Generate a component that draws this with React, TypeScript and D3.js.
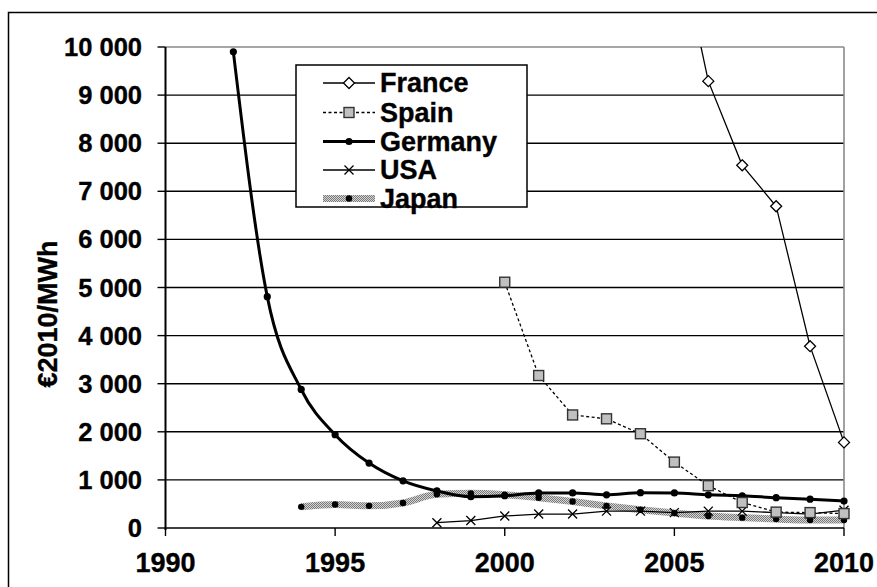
import React from "react";
import * as d3 from "d3";

const franceYears = [2005, 2006, 2007, 2008, 2009, 2010];
const franceValues = [12600, 9290, 7540, 6690, 3780, 1780];

const spainYears = [2000, 2001, 2002, 2003, 2004, 2005, 2006, 2007, 2008, 2009, 2010];
const spainValues = [5110, 3170, 2350, 2270, 1960, 1370, 880, 530, 330, 320, 300];

const germanyYears = [1992, 1993, 1994, 1995, 1996, 1997, 1998, 1999, 2000, 2001, 2002, 2003, 2004, 2005, 2006, 2007, 2008, 2009, 2010];
const germanyValues = [9900, 4810, 2880, 1940, 1350, 980, 770, 650, 670, 730, 730, 690, 735, 730, 690, 670, 630, 600, 560];

const usaYears = [1998, 1999, 2000, 2001, 2002, 2003, 2004, 2005, 2006, 2007, 2008, 2009, 2010];
const usaValues = [110, 155, 250, 290, 290, 350, 350, 320, 350, 350, 320, 290, 370];

const japanYears = [1994, 1995, 1996, 1997, 1998, 1999, 2000, 2001, 2002, 2003, 2004, 2005, 2006, 2007, 2008, 2009, 2010];
const japanValues = [440, 490, 460, 520, 700, 720, 690, 630, 550, 460, 380, 310, 250, 215, 185, 165, 165];

const xTickValues = [1990, 1995, 2000, 2005, 2010];
const yTickValues = [0, 1000, 2000, 3000, 4000, 5000, 6000, 7000, 8000, 9000, 10000];
const legendLabels = ["France", "Spain", "Germany", "USA", "Japan"];
const yAxisTitle = "€2010/MWh";

const FONT = "'Liberation Sans', Arial, Helvetica, sans-serif";

export default function App() {
  const left = 165.5;
  const right = 844;
  const top = 47;
  const bottom = 528;

  const x = d3.scaleLinear().domain([1990, 2010]).range([left, right]);
  const y = d3.scaleLinear().domain([0, 10000]).range([bottom, top]);

  const pts = (ys: number[], vs: number[]) => ys.map((yr, i) => [yr, vs[i]] as [number, number]);

  const lineLinear = d3.line<[number, number]>().x((d) => x(d[0])).y((d) => y(d[1]));
  const lineSmooth = d3
    .line<[number, number]>()
    .x((d) => x(d[0]))
    .y((d) => y(d[1]))
    .curve(d3.curveMonotoneX);

  const france = pts(franceYears, franceValues);
  const spain = pts(spainYears, spainValues);
  const germany = pts(germanyYears, germanyValues);
  const usa = pts(usaYears, usaValues);
  const japan = pts(japanYears, japanValues);

  const fmt = (v: number) => d3.format(",")(v).replace(/,/g, " ");

  const inPlot = (d: [number, number]) => d[1] <= 10000;

  const diamond = (cx: number, cy: number, key: string | number) => (
    <path
      key={key}
      d={`M${cx},${cy - 5.5}L${cx + 5.5},${cy}L${cx},${cy + 5.5}L${cx - 5.5},${cy}Z`}
      fill="#fff"
      stroke="#000"
      strokeWidth={1.3}
    />
  );
  const square = (cx: number, cy: number, key: string | number) => (
    <rect key={key} x={cx - 5} y={cy - 5} width={10} height={10} fill="#c0c0c0" stroke="#333" strokeWidth={1.4} />
  );
  const dot = (cx: number, cy: number, key: string | number, r = 3.6) => (
    <circle key={key} cx={cx} cy={cy} r={r} fill="#000" />
  );
  const cross = (cx: number, cy: number, key: string | number) => (
    <path
      key={key}
      d={`M${cx - 4.5},${cy - 4.5}L${cx + 4.5},${cy + 4.5}M${cx - 4.5},${cy + 4.5}L${cx + 4.5},${cy - 4.5}`}
      stroke="#000"
      strokeWidth={1.3}
      fill="none"
    />
  );

  const legX0 = 323;
  const legX1 = 375;
  const legMid = 349;
  const legTextX = 380;
  const legY = [83, 112.5, 141.5, 170, 198.5];

  const textStroke = { stroke: "#000", strokeWidth: 0.35 };

  return (
    <svg
      width={877}
      height={587}
      style={{ position: "absolute", left: 0, top: 0, background: "#fff" }}
      fontFamily={FONT}
    >
      <defs>
        <pattern id="jpPat" width={2} height={2} patternUnits="userSpaceOnUse">
          <rect width={2} height={2} fill="#d4d4d4" />
          <rect width={1} height={1} fill="#7a7a7a" />
          <rect x={1} y={1} width={1} height={1} fill="#7a7a7a" />
        </pattern>
        <clipPath id="plotClip">
          <rect x={left} y={top} width={right - left + 8} height={bottom - top + 8} />
        </clipPath>
      </defs>

      <rect x={0} y={0} width={877} height={587} fill="#fff" />
      {/* outer frame */}
      <rect x={8.5} y={12.5} width={900} height={600} fill="none" stroke="#000" strokeWidth={1.5} />

      {/* gridlines */}
      {yTickValues.map((v) =>
        v === 0 ? null : (
          <line
            key={v}
            x1={left}
            x2={right}
            y1={y(v)}
            y2={y(v)}
            stroke={v === 10000 ? "#8a8a8a" : "#000"}
            strokeWidth={v === 10000 ? 1.6 : 1.4}
          />
        )
      )}
      {/* plot right border */}
      <line x1={right} x2={right} y1={top} y2={bottom} stroke="#8a8a8a" strokeWidth={1.6} />

      {/* y axis */}
      <line x1={left} x2={left} y1={top} y2={bottom + 2} stroke="#000" strokeWidth={2} />
      {yTickValues.map((v) => (
        <g key={v}>
          <line x1={left - 8} x2={left} y1={y(v)} y2={y(v)} stroke="#000" strokeWidth={1.4} />
          <text
            x={142}
            y={y(v)}
            textAnchor="end"
            dominantBaseline="central"
            fontWeight="bold"
            fontSize={25.5}
            fill="#000"
            {...textStroke}
          >
            {fmt(v)}
          </text>
        </g>
      ))}

      {/* x axis */}
      <line x1={left} x2={right} y1={bottom} y2={bottom} stroke="#000" strokeWidth={1.6} />
      {xTickValues.map((v) => (
        <g key={v}>
          <line x1={x(v)} x2={x(v)} y1={bottom} y2={bottom + 8} stroke="#000" strokeWidth={1.4} />
          <text x={x(v)} y={572} textAnchor="middle" fontWeight="bold" fontSize={27} fill="#000" {...textStroke}>
            {v}
          </text>
        </g>
      ))}

      {/* y axis title */}
      <text
        transform={`translate(57,314) rotate(-90)`}
        textAnchor="middle"
        fontWeight="bold"
        fontSize={27}
        fill="#000"
        {...textStroke}
      >
        {yAxisTitle}
      </text>

      <g clipPath="url(#plotClip)">
        {/* Japan */}
        <path d={lineSmooth(japan) || ""} fill="none" stroke="url(#jpPat)" strokeWidth={7} />
        {japan.map((d, i) => dot(x(d[0]), y(d[1]), "jp" + i, 3.2))}

        {/* USA */}
        <path d={lineLinear(usa) || ""} fill="none" stroke="#000" strokeWidth={1.3} />
        {usa.map((d, i) => cross(x(d[0]), y(d[1]), "us" + i))}

        {/* Germany */}
        <path d={lineSmooth(germany) || ""} fill="none" stroke="#000" strokeWidth={3} />
        {germany.map((d, i) => dot(x(d[0]), y(d[1]), "de" + i))}

        {/* Spain */}
        <path d={lineLinear(spain) || ""} fill="none" stroke="#000" strokeWidth={1.3} strokeDasharray="3,2.5" />
        {spain.map((d, i) => square(x(d[0]), y(d[1]), "es" + i))}

        {/* France */}
        <path d={lineLinear(france) || ""} fill="none" stroke="#000" strokeWidth={1.3} />
        {france.filter(inPlot).map((d, i) => diamond(x(d[0]), y(d[1]), "fr" + i))}
      </g>

      {/* legend */}
      <rect x={296} y={65} width={231} height={142} fill="#fff" stroke="#000" strokeWidth={1.5} />
      {legendLabels.map((lab, i) => {
        const ly = legY[i];
        let sample: React.ReactNode = null;
        if (i === 0) {
          sample = (
            <g>
              <line x1={legX0} x2={legX1} y1={ly} y2={ly} stroke="#000" strokeWidth={1.3} />
              {diamond(legMid, ly, "l0")}
            </g>
          );
        } else if (i === 1) {
          sample = (
            <g>
              <line x1={legX0} x2={legX1} y1={ly} y2={ly} stroke="#000" strokeWidth={1.3} strokeDasharray="3,2.5" />
              {square(legMid, ly, "l1")}
            </g>
          );
        } else if (i === 2) {
          sample = (
            <g>
              <line x1={legX0} x2={legX1} y1={ly} y2={ly} stroke="#000" strokeWidth={3} />
              {dot(legMid, ly, "l2")}
            </g>
          );
        } else if (i === 3) {
          sample = (
            <g>
              <line x1={legX0} x2={legX1} y1={ly} y2={ly} stroke="#000" strokeWidth={1.3} />
              {cross(legMid, ly, "l3")}
            </g>
          );
        } else {
          sample = (
            <g>
              <line x1={legX0} x2={legX1} y1={ly} y2={ly} stroke="url(#jpPat)" strokeWidth={7} />
              {dot(legMid, ly, "l4", 3.2)}
            </g>
          );
        }
        return (
          <g key={lab}>
            {sample}
            <text
              x={legTextX}
              y={ly}
              dominantBaseline="central"
              fontWeight="bold"
              fontSize={27}
              fill="#000"
              {...textStroke}
            >
              {lab}
            </text>
          </g>
        );
      })}
    </svg>
  );
}
